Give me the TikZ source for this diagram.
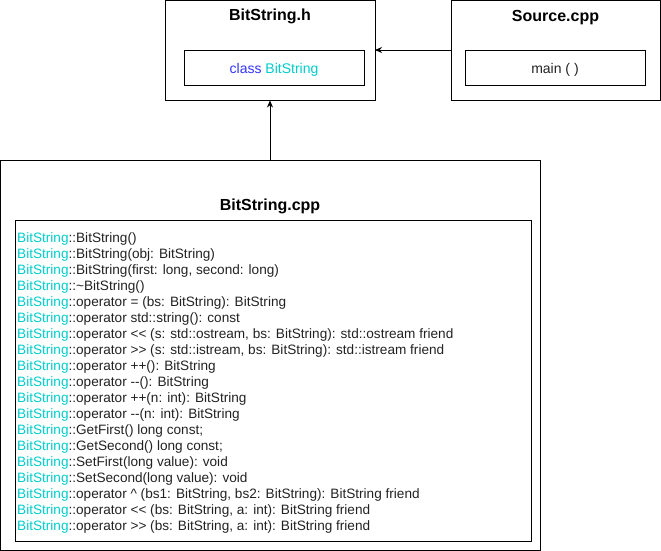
\documentclass[tikz,border=0pt]{standalone}
\usepackage{fontspec}
\setmainfont{Liberation Sans}
\usepackage{xcolor}
\usetikzlibrary{arrows.meta,positioning}
\definecolor{kwblue}{HTML}{3333FF}
\definecolor{clscyan}{HTML}{00CCCC}
\definecolor{txtgrey}{HTML}{222222}
\newcommand{\bsn}{\textcolor{clscyan}{BitString}::}

\begin{document}
\begin{tikzpicture}[x=1pt,y=-1pt,
  filebox/.style={draw, line width=0.9pt, inner sep=0pt, outer sep=0pt, anchor=north west},
  title/.style={font=\fontsize{16}{18}\selectfont\bfseries, anchor=base},
  member/.style={font=\fontsize{14}{16}\selectfont, text=txtgrey, inner sep=0pt},
  method/.style={member, font=\fontsize{13.6}{16}\selectfont, anchor=base west},
  dep/.style={-{Stealth[length=7pt,width=6pt]}, line width=0.9pt}]
  \useasboundingbox (0,0) rectangle (661,551);

  % BitString.h
  \node[filebox, minimum width=210pt, minimum height=100pt] (hfile) at (165,0.5) {};
  \node[title] (htitle) at (270,21) {BitString.h};
  \node[filebox, minimum width=180pt, minimum height=35pt] (hclass) at (184,50) {};
  \node[member, anchor=base] at (hclass.center |- 0,74) {\textcolor{kwblue}{class} \textcolor{clscyan}{BitString}};

  % Source.cpp
  \node[filebox, minimum width=209pt, minimum height=100pt] (src) at (451,0.5) {};
  \node[title] (srctitle) at (555.5,21.5) {Source.cpp};
  \node[filebox, minimum width=180pt, minimum height=35pt] (srcmain) at (465,50) {};
  \node[member, anchor=base] at (srcmain.center |- 0,74) {main ( )};

  % BitString.cpp
  \node[filebox, minimum width=540pt, minimum height=390pt] (cpp) at (0.5,160) {};
  \node[title] (cpptitle) at (270,210) {BitString.cpp};
  \node[filebox, minimum width=516pt, minimum height=321pt] (cppbody) at (15,220) {};
  \foreach \m [count=\i from 0] in {
    {BitString()},
    {BitString(obj: BitString)},
    {BitString(first: long, second: long)},
    {\textasciitilde BitString()},
    {operator = (bs: BitString): BitString},
    {operator std::string(): const},
    {operator <{}< (s: std::ostream, bs: BitString): std::ostream friend},
    {operator >{}> (s: std::istream, bs: BitString): std::istream friend},
    {operator ++(): BitString},
    {operator -{}-(): BitString},
    {operator ++(n: int): BitString},
    {operator -{}-(n: int): BitString},
    {GetFirst() long const;},
    {GetSecond() long const;},
    {SetFirst(long value): void},
    {SetSecond(long value): void},
    {operator \textasciicircum\ (bs1: BitString, bs2: BitString): BitString friend},
    {operator <{}< (bs: BitString, a: int): BitString friend},
    {operator >{}> (bs: BitString, a: int): BitString friend}}
    \node[method] (line\i) at (17,242.5+16*\i) {\bsn\m};

  % dependencies
  \draw[dep] (src.west |- hclass.north) -- (hfile.east |- hclass.north);
  \draw[dep] (cpp.north -| htitle) -- (hfile.south -| htitle);
\end{tikzpicture}
\end{document}
